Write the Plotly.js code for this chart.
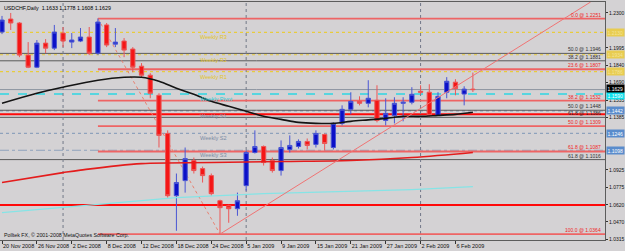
<!DOCTYPE html>
<html><head><meta charset="utf-8">
<script src="https://cdn.plot.ly/plotly-3.0.1.min.js"></script>
<style>html,body{margin:0;padding:0;background:#d4d2d4;} #chart{width:625px;height:251px;}</style>
</head><body><div id="chart"></div>
<script>
// ---- data ----
const symbolTitle = "USDCHF,Daily  1.1633 1.1778 1.1608 1.1629";
const copyright = "Polltek FX, \u00a9 2001-2008 MetaQuotes Software Corp.";
const dates = ["20 Nov 2008","21 Nov 2008","24 Nov 2008","25 Nov 2008","26 Nov 2008","27 Nov 2008","28 Nov 2008",
"1 Dec 2008","2 Dec 2008","3 Dec 2008","4 Dec 2008","5 Dec 2008","8 Dec 2008","9 Dec 2008","10 Dec 2008","11 Dec 2008","12 Dec 2008",
"15 Dec 2008","16 Dec 2008","17 Dec 2008","18 Dec 2008","19 Dec 2008","22 Dec 2008","23 Dec 2008","24 Dec 2008","29 Dec 2008","30 Dec 2008","31 Dec 2008",
"5 Jan 2009","6 Jan 2009","7 Jan 2009","8 Jan 2009","9 Jan 2009","12 Jan 2009","13 Jan 2009","14 Jan 2009","15 Jan 2009","16 Jan 2009",
"19 Jan 2009","20 Jan 2009","21 Jan 2009","22 Jan 2009","23 Jan 2009","26 Jan 2009","27 Jan 2009","28 Jan 2009","29 Jan 2009","30 Jan 2009",
"2 Feb 2009","3 Feb 2009","4 Feb 2009","5 Feb 2009","6 Feb 2009","9 Feb 2009","10 Feb 2009"];
const openP  = [1.2133,1.2247,1.2212,1.1931,1.1825,1.2036,1.1992,1.2124,1.2045,1.2054,1.2089,1.1948,1.2195,1.2027,1.2054,1.1984,1.1834,1.1755,1.1579,1.1245,1.0700,1.0832,1.1008,1.0937,1.0876,1.0656,1.0612,1.0586,1.0788,1.1078,1.1131,1.1008,1.0920,1.1105,1.1131,1.1175,1.1149,1.1236,1.1122,1.1333,1.1456,1.1526,1.1509,1.1535,1.1359,1.1403,1.1509,1.1518,1.1614,1.1606,1.1403,1.1606,1.1694,1.1590,1.1633];
const highP  = [1.2274,1.2300,1.2221,1.2045,1.2063,1.2071,1.2195,1.2177,1.2124,1.2168,1.2177,1.2251,1.2212,1.2168,1.2080,1.2001,1.1861,1.1773,1.1597,1.1272,1.0894,1.1122,1.1034,1.0955,1.0894,1.0665,1.0621,1.0727,1.1096,1.1272,1.1140,1.1034,1.1184,1.1228,1.1193,1.1201,1.1272,1.1245,1.1342,1.1491,1.1606,1.1570,1.1711,1.1667,1.1553,1.1562,1.1562,1.1650,1.1667,1.1676,1.1606,1.1738,1.1720,1.1658,1.1778];
const lowP   = [1.2115,1.2151,1.1913,1.1817,1.1817,1.1948,1.1975,1.2001,1.1992,1.2045,1.1931,1.1931,1.2001,1.2001,1.1913,1.1781,1.1737,1.1553,1.1122,1.0683,1.0393,1.0727,1.0894,1.0815,1.0700,1.0364,1.0463,1.0524,1.0744,1.1069,1.0964,1.0902,1.0876,1.1078,1.1113,1.1105,1.1122,1.1096,1.1105,1.1316,1.1412,1.1491,1.1474,1.1342,1.1316,1.1333,1.1351,1.1500,1.1588,1.1394,1.1398,1.1553,1.1579,1.1491,1.1608];
const closeP = [1.2238,1.2212,1.1931,1.1825,1.2036,1.1992,1.2133,1.2054,1.2063,1.2089,1.1948,1.2221,1.2019,1.2045,1.1975,1.1825,1.1755,1.1597,1.1228,1.0700,1.0815,1.1025,1.0920,1.0876,1.0718,1.0595,1.0586,1.0656,1.1078,1.1131,1.0990,1.0920,1.1122,1.1140,1.1175,1.1140,1.1245,1.1157,1.1333,1.1456,1.1526,1.1509,1.1553,1.1359,1.1421,1.1509,1.1518,1.1588,1.1606,1.1403,1.1570,1.1702,1.1638,1.1633,1.1629];
const tickBars = [0,4,8,12,16,20,24,28,32,36,40,44,48,52];
const yTickVals = [1.2300,1.1995,1.1840,1.1690,1.1535,1.1385,1.0925,1.0775,1.0620,1.0470,1.0315];
const maBlackBars = [0,4,7,11,14,16,18,20,22,24,26,28,30,32,34,36,38,40,42,44,46,48,50,52,54];
const maBlackVals = [1.1509,1.1597,1.1650,1.1711,1.1737,1.1737,1.1702,1.1641,1.1588,1.1526,1.1483,1.1439,1.1395,1.1368,1.1342,1.1333,1.1333,1.1351,1.1364,1.1377,1.1395,1.1395,1.1403,1.1412,1.1430];
const maRedBars = [0,7,9,16,24,32,40,47,54];
const maRedVals = [1.0815,1.0902,1.0924,1.0981,1.0990,1.0999,1.1008,1.1034,1.1078];
const maCyanBars = [0,10,20,30,40,47,54];
const maCyanVals = [1.0551,1.0614,1.0683,1.0718,1.0735,1.0753,1.0779];
const pivotNames = ["Weekly R3","Weekly R2","Weekly R1","Weekly Pivot","Weekly S1","Weekly S2","Weekly S3"];
const pivotVals  = [1.2130,1.1934,1.1786,1.1590,1.1442,1.1246,1.1098];
const fibRedPct  = ["0.0","23.6","38.2","50.0","61.8","100.0"];
const fibRedVals = [1.2251,1.1807,1.1532,1.1309,1.1087,1.0364];
const fibAnchorBars = [11,25];
const fibDarkPct  = ["50.0","38.2","50.0","61.8","61.8"];
const fibDarkVals = [1.1946,1.1881,1.1448,1.1386,1.1016];
const redHLines = [1.1413,1.0618];
const separatorBars = [7,28,48];
const trendBars = [25,67.5];
const trendVals = [1.0364,1.2396];

// ---- styles ----
const BG = '#d4d2d4';
const FONT = 'Liberation Sans, Arial, sans-serif';
const FS = 5.3;
const xRange = [-0.23, 69.15];
const yRange = [1.0312, 1.2396];
const idx = dates.map((d,i)=>i);

const traces = [];
traces.push({type:'scatter', mode:'lines', x:maCyanBars, y:maCyanVals, line:{color:'#86e4e6', width:1.2}, hoverinfo:'skip'});
traces.push({type:'scatter', mode:'lines', x:maRedBars, y:maRedVals, line:{color:'#e41c1c', width:1.6, shape:'spline'}, hoverinfo:'skip'});
traces.push({type:'candlestick', x:idx, open:openP, high:highP, low:lowP, close:closeP,
  increasing:{line:{color:'#4a56d4', width:1}, fillcolor:'#0c10c8'},
  decreasing:{line:{color:'#ec5656', width:1}, fillcolor:'#f41616'},
  whiskerwidth:0, hoverinfo:'skip'});
traces.push({type:'scatter', mode:'lines', x:maBlackBars, y:maBlackVals, line:{color:'#141414', width:1.6, shape:'spline'}, hoverinfo:'skip'});

const shapes = [];
const pivotColor = (i)=> i<3 ? '#e8cc3c' : (i===3 ? '#2ed6e2' : '#8ea2bc');
const pivotDash = (i)=> i<3 ? 'dot' : (i===3 ? 'dash' : (i===6 ? 'dashdot' : 'dot'));
pivotVals.forEach((v,i)=>shapes.push({type:'line', layer:'below', xref:'paper', x0:0, x1:1, yref:'y', y0:v, y1:v,
  line:{color:pivotColor(i), width: i===3?1.5:1.2, dash:pivotDash(i)}}));
fibDarkVals.forEach(v=>shapes.push({type:'line', layer:'below', xref:'paper', x0:0, x1:1, yref:'y', y0:v, y1:v,
  line:{color:'#5a5a5a', width:1}}));
redHLines.forEach(v=>shapes.push({type:'line', layer:'below', xref:'paper', x0:0, x1:1, yref:'y', y0:v, y1:v,
  line:{color:'#ff0a0a', width:2}}));
// bid line
shapes.push({type:'line', layer:'below', xref:'paper', x0:0, x1:1, yref:'y', y0:closeP[closeP.length-1], y1:closeP[closeP.length-1],
  line:{color:'#8c94a0', width:1}});
fibRedVals.forEach(v=>shapes.push({type:'line', layer:'below', xref:'x', x0:fibAnchorBars[0], x1:xRange[1], yref:'y', y0:v, y1:v,
  line:{color:'#ee6464', width:1.8}}));
shapes.push({type:'line', layer:'below', xref:'x', x0:fibAnchorBars[0], x1:fibAnchorBars[1], yref:'y', y0:fibRedVals[0], y1:fibRedVals[fibRedVals.length-1],
  line:{color:'#e88070', width:1, dash:'dot'}});
separatorBars.forEach(b=>shapes.push({type:'line', layer:'below', xref:'x', x0:b, x1:b, yref:'paper', y0:0, y1:1,
  line:{color:'#727888', width:1, dash:'dot'}}));
shapes.push({type:'line', layer:'above', xref:'x', x0:trendBars[0], x1:trendBars[1], yref:'y', y0:trendVals[0], y1:trendVals[1],
  line:{color:'#f07474', width:1}});

const ann = [];
ann.push({xref:'paper', yref:'paper', x:0, y:1, xanchor:'left', yanchor:'top', xshift:2, yshift:-1, showarrow:false,
  text:symbolTitle, font:{family:FONT, size:FS, color:'#000'}});
ann.push({xref:'paper', yref:'paper', x:0, y:0, xanchor:'left', yanchor:'bottom', xshift:2, yshift:0, showarrow:false,
  text:copyright, font:{family:FONT, size:FS, color:'#111'}});
const pivotLabelColor = (i)=> i<3 ? '#e2c42c' : (i===3 ? '#28cfd9' : '#7c8ca4');
pivotVals.forEach((v,i)=>ann.push({xref:'x', yref:'y', x:22.5, y:v, xanchor:'left', yanchor:'top', yshift:0, showarrow:false,
  text:pivotNames[i], font:{family:FONT, size:5.6, color:pivotLabelColor(i)}}));
fibRedVals.forEach((v,i)=>ann.push({xref:'paper', yref:'y', x:1, y:v, xanchor:'right', yanchor:'bottom', xshift:-2, yshift:-1, showarrow:false,
  text:fibRedPct[i]+' @ '+v.toFixed(4), font:{family:FONT, size:5, color:'#f01e1e'}}));
fibDarkVals.forEach((v,i)=>ann.push({xref:'paper', yref:'y', x:1, y:v, xanchor:'right', yanchor:'bottom', xshift:-2, yshift:-1, showarrow:false,
  text:fibDarkPct[i]+' @ '+v.toFixed(4), font:{family:FONT, size:5, color:'#303030'}}));
// axis price boxes
const boxBg = (i)=> i<3 ? '#e8cc50' : (i===3 ? '#10e0ec' : '#5a8ccc');
const boxShift = (i)=> i===3 ? -1.5 : 0;
pivotVals.forEach((v,i)=>ann.push({xref:'paper', yref:'y', x:1, y:v, xanchor:'left', yanchor:'middle', xshift:1, yshift:boxShift(i), showarrow:false,
  text:v.toFixed(4), bgcolor:boxBg(i), borderpad:0.5, font:{family:FONT, size:5, color: i<3 ? '#f4e498' : '#ffffff'}}));
ann.push({xref:'paper', yref:'y', x:1, y:closeP[closeP.length-1], xanchor:'left', yanchor:'middle', xshift:1, yshift:1.5, showarrow:false,
  text:closeP[closeP.length-1].toFixed(4), bgcolor:'#000000', borderpad:0.5, font:{family:FONT, size:5, color:'#ffffff'}});

const layout = {
  width:625, height:251, margin:{l:0, r:20, t:2, b:11},
  paper_bgcolor:BG, plot_bgcolor:BG, showlegend:false, hovermode:false,
  font:{family:FONT, size:FS, color:'#111'},
  xaxis:{range:xRange, tickvals:tickBars, ticktext:tickBars.map(b=>dates[b]), ticks:'outside', ticklen:3, tickcolor:'#333',
    tickangle:0, ticklabelposition:'outside right', showgrid:false, zeroline:false, showline:true, mirror:true, linecolor:'#5c5c5c', linewidth:1,
    tickfont:{family:FONT, size:5.5, color:'#111'}, rangeslider:{visible:false}, fixedrange:true},
  yaxis:{side:'right', range:yRange, tickvals:yTickVals, ticktext:yTickVals.map(v=>v.toFixed(4)), ticks:'outside', ticklen:2, tickcolor:'#333',
    showgrid:false, zeroline:false, showline:true, mirror:true, linecolor:'#5c5c5c', linewidth:1,
    tickfont:{family:FONT, size:5, color:'#111'}, fixedrange:true},
  shapes:shapes, annotations:ann
};
Plotly.newPlot('chart', traces, layout, {staticPlot:true, displayModeBar:false});
</script></body></html>
